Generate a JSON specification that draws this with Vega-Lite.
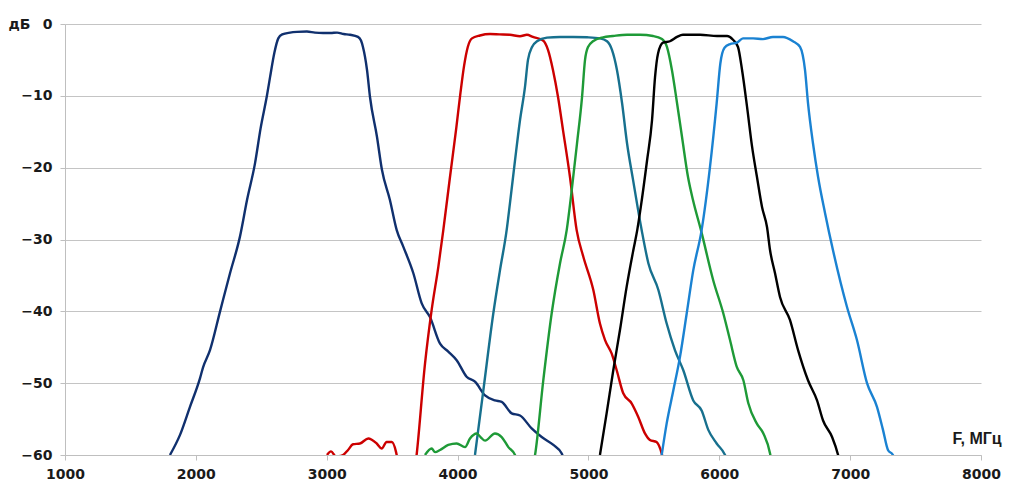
{
  "$schema": "https://vega.github.io/schema/vega-lite/v6.json",
  "width": 916,
  "height": 431,
  "autosize": "none",
  "padding": {"left": 65, "top": 24, "right": 43, "bottom": 42},
  "background": "white",
  "config": {"view": {"stroke": null}},
  "data": {
    "values": [
      {"s":"1","f":1802,"db":-60},{"s":"1","f":1879,"db":-57.2},{"s":"1","f":1955,"db":-53.3},{"s":"1","f":2032,"db":-49.3},{"s":"1","f":2055,"db":-47.8},{"s":"1","f":2108,"db":-45.4},{"s":"1","f":2185,"db":-40},{"s":"1","f":2261,"db":-34.7},{"s":"1","f":2337,"db":-29.6},{"s":"1","f":2391,"db":-24.5},{"s":"1","f":2452,"db":-19.4},{"s":"1","f":2495,"db":-14.5},{"s":"1","f":2543,"db":-10},{"s":"1","f":2567,"db":-7.4},{"s":"1","f":2600,"db":-4},{"s":"1","f":2630,"db":-2},{"s":"1","f":2660,"db":-1.45},{"s":"1","f":2720,"db":-1.2},{"s":"1","f":2773,"db":-1.1},{"s":"1","f":2849,"db":-1.05},{"s":"1","f":2910,"db":-1.2},{"s":"1","f":2972,"db":-1.25},{"s":"1","f":3030,"db":-1.25},{"s":"1","f":3079,"db":-1.2},{"s":"1","f":3130,"db":-1.4},{"s":"1","f":3178,"db":-1.5},{"s":"1","f":3239,"db":-1.8},{"s":"1","f":3262,"db":-2.3},{"s":"1","f":3277,"db":-3.2},{"s":"1","f":3308,"db":-6.4},{"s":"1","f":3331,"db":-10.2},{"s":"1","f":3384,"db":-15.7},{"s":"1","f":3422,"db":-20.3},{"s":"1","f":3483,"db":-24.5},{"s":"1","f":3535,"db":-28.7},{"s":"1","f":3585,"db":-31},{"s":"1","f":3662,"db":-34.7},{"s":"1","f":3726,"db":-38.9},{"s":"1","f":3789,"db":-40.8},{"s":"1","f":3866,"db":-44.5},{"s":"1","f":3929,"db":-45.6},{"s":"1","f":3993,"db":-46.8},{"s":"1","f":4069,"db":-49.1},{"s":"1","f":4133,"db":-49.8},{"s":"1","f":4210,"db":-51.7},{"s":"1","f":4286,"db":-52.4},{"s":"1","f":4337,"db":-52.6},{"s":"1","f":4413,"db":-54.2},{"s":"1","f":4477,"db":-54.5},{"s":"1","f":4566,"db":-56.3},{"s":"1","f":4643,"db":-57.5},{"s":"1","f":4732,"db":-58.6},{"s":"1","f":4796,"db":-59.8},{"s":"1","f":4810,"db":-60.5},

      {"s":"2","f":3002,"db":-60},{"s":"2","f":3033,"db":-59.5},{"s":"2","f":3070,"db":-60.2},{"s":"2","f":3124,"db":-60},{"s":"2","f":3163,"db":-59.3},{"s":"2","f":3201,"db":-58.5},{"s":"2","f":3254,"db":-58.4},{"s":"2","f":3318,"db":-57.7},{"s":"2","f":3382,"db":-58.4},{"s":"2","f":3420,"db":-59.1},{"s":"2","f":3458,"db":-58.2},{"s":"2","f":3497,"db":-58.2},{"s":"2","f":3530,"db":-59.6},{"s":"2","f":3545,"db":-61},{"s":"2","f":3570,"db":-64},{"s":"2","f":3660,"db":-64},{"s":"2","f":3687,"db":-60},{"s":"2","f":3751,"db":-47.3},{"s":"2","f":3802,"db":-39.8},{"s":"2","f":3853,"db":-33.8},{"s":"2","f":3891,"db":-28.7},{"s":"2","f":3942,"db":-21.3},{"s":"2","f":3990,"db":-14.5},{"s":"2","f":4022,"db":-9.6},{"s":"2","f":4050,"db":-5.8},{"s":"2","f":4078,"db":-3.2},{"s":"2","f":4110,"db":-2},{"s":"2","f":4171,"db":-1.6},{"s":"2","f":4248,"db":-1.4},{"s":"2","f":4320,"db":-1.45},{"s":"2","f":4400,"db":-1.5},{"s":"2","f":4477,"db":-1.7},{"s":"2","f":4530,"db":-1.5},{"s":"2","f":4576,"db":-1.8},{"s":"2","f":4653,"db":-2.3},{"s":"2","f":4691,"db":-3.6},{"s":"2","f":4729,"db":-6.4},{"s":"2","f":4768,"db":-10.2},{"s":"2","f":4806,"db":-14.8},{"s":"2","f":4859,"db":-21.3},{"s":"2","f":4910,"db":-28.7},{"s":"2","f":4961,"db":-32.4},{"s":"2","f":5037,"db":-37},{"s":"2","f":5088,"db":-41.7},{"s":"2","f":5127,"db":-44},{"s":"2","f":5178,"db":-45.9},{"s":"2","f":5216,"db":-48.2},{"s":"2","f":5266,"db":-51.4},{"s":"2","f":5330,"db":-52.8},{"s":"2","f":5381,"db":-54.7},{"s":"2","f":5432,"db":-57},{"s":"2","f":5470,"db":-57.9},{"s":"2","f":5521,"db":-58.2},{"s":"2","f":5560,"db":-59.8},{"s":"2","f":5570,"db":-60.5},

      {"s":"3","f":4133,"db":-60},{"s":"3","f":4197,"db":-51},{"s":"3","f":4273,"db":-40.3},{"s":"3","f":4324,"db":-34.3},{"s":"3","f":4375,"db":-28.7},{"s":"3","f":4400,"db":-25},{"s":"3","f":4439,"db":-19},{"s":"3","f":4477,"db":-13.4},{"s":"3","f":4515,"db":-8.8},{"s":"3","f":4538,"db":-5},{"s":"3","f":4569,"db":-3.2},{"s":"3","f":4607,"db":-2.4},{"s":"3","f":4683,"db":-1.9},{"s":"3","f":4783,"db":-1.8},{"s":"3","f":4882,"db":-1.8},{"s":"3","f":4989,"db":-1.85},{"s":"3","f":5088,"db":-2.0},{"s":"3","f":5142,"db":-2.4},{"s":"3","f":5180,"db":-3.6},{"s":"3","f":5218,"db":-6.4},{"s":"3","f":5257,"db":-11},{"s":"3","f":5295,"db":-16.6},{"s":"3","f":5341,"db":-21.7},{"s":"3","f":5407,"db":-28.7},{"s":"3","f":5458,"db":-33.3},{"s":"3","f":5534,"db":-37},{"s":"3","f":5598,"db":-41.7},{"s":"3","f":5661,"db":-45.4},{"s":"3","f":5725,"db":-48.2},{"s":"3","f":5801,"db":-52.4},{"s":"3","f":5865,"db":-53.8},{"s":"3","f":5916,"db":-56.5},{"s":"3","f":5980,"db":-58.4},{"s":"3","f":6044,"db":-60},{"s":"3","f":6055,"db":-60.5},

      {"s":"4","f":3751,"db":-60},{"s":"4","f":3802,"db":-59.1},{"s":"4","f":3828,"db":-59.6},{"s":"4","f":3866,"db":-59.3},{"s":"4","f":3929,"db":-58.6},{"s":"4","f":3993,"db":-58.4},{"s":"4","f":4057,"db":-58.9},{"s":"4","f":4095,"db":-57.7},{"s":"4","f":4146,"db":-57},{"s":"4","f":4180,"db":-57.6},{"s":"4","f":4210,"db":-58},{"s":"4","f":4286,"db":-57},{"s":"4","f":4337,"db":-57.5},{"s":"4","f":4388,"db":-58.9},{"s":"4","f":4439,"db":-60},{"s":"4","f":4460,"db":-62},{"s":"4","f":4570,"db":-62},{"s":"4","f":4592,"db":-60},{"s":"4","f":4655,"db":-49.6},{"s":"4","f":4719,"db":-40.3},{"s":"4","f":4783,"db":-33.3},{"s":"4","f":4834,"db":-28.7},{"s":"4","f":4870,"db":-23.5},{"s":"4","f":4913,"db":-16.6},{"s":"4","f":4951,"db":-10.2},{"s":"4","f":4974,"db":-5},{"s":"4","f":4997,"db":-3.2},{"s":"4","f":5035,"db":-2.4},{"s":"4","f":5111,"db":-1.85},{"s":"4","f":5188,"db":-1.67},{"s":"4","f":5295,"db":-1.5},{"s":"4","f":5394,"db":-1.5},{"s":"4","f":5494,"db":-1.67},{"s":"4","f":5562,"db":-2.1},{"s":"4","f":5600,"db":-3.2},{"s":"4","f":5638,"db":-6.4},{"s":"4","f":5677,"db":-11},{"s":"4","f":5715,"db":-15.7},{"s":"4","f":5761,"db":-21.3},{"s":"4","f":5799,"db":-24.5},{"s":"4","f":5860,"db":-28.7},{"s":"4","f":5954,"db":-35.7},{"s":"4","f":6031,"db":-40.3},{"s":"4","f":6082,"db":-44},{"s":"4","f":6133,"db":-47.7},{"s":"4","f":6184,"db":-49.6},{"s":"4","f":6222,"db":-52.8},{"s":"4","f":6286,"db":-55.6},{"s":"4","f":6337,"db":-57},{"s":"4","f":6388,"db":-59.8},{"s":"4","f":6395,"db":-60.5},

      {"s":"5","f":5088,"db":-60},{"s":"5","f":5139,"db":-54.2},{"s":"5","f":5190,"db":-48.2},{"s":"5","f":5241,"db":-42.6},{"s":"5","f":5292,"db":-36.6},{"s":"5","f":5343,"db":-31.5},{"s":"5","f":5373,"db":-28.7},{"s":"5","f":5400,"db":-25.5},{"s":"5","f":5448,"db":-19},{"s":"5","f":5486,"db":-13.4},{"s":"5","f":5509,"db":-7.4},{"s":"5","f":5532,"db":-4.1},{"s":"5","f":5570,"db":-2.6},{"s":"5","f":5623,"db":-2.4},{"s":"5","f":5677,"db":-1.8},{"s":"5","f":5722,"db":-1.5},{"s":"5","f":5853,"db":-1.5},{"s":"5","f":5983,"db":-1.67},{"s":"5","f":6059,"db":-1.67},{"s":"5","f":6105,"db":-2.2},{"s":"5","f":6143,"db":-3.2},{"s":"5","f":6174,"db":-6.4},{"s":"5","f":6212,"db":-11.5},{"s":"5","f":6250,"db":-17},{"s":"5","f":6288,"db":-21.3},{"s":"5","f":6327,"db":-25.5},{"s":"5","f":6365,"db":-28.3},{"s":"5","f":6388,"db":-31.5},{"s":"5","f":6426,"db":-34.7},{"s":"5","f":6464,"db":-38},{"s":"5","f":6540,"db":-41.2},{"s":"5","f":6602,"db":-45.4},{"s":"5","f":6678,"db":-49.6},{"s":"5","f":6747,"db":-52.4},{"s":"5","f":6793,"db":-55.2},{"s":"5","f":6862,"db":-57.5},{"s":"5","f":6908,"db":-60},{"s":"5","f":6915,"db":-60.5},

      {"s":"6","f":5560,"db":-60},{"s":"6","f":5598,"db":-55.6},{"s":"6","f":5649,"db":-51},{"s":"6","f":5700,"db":-46.3},{"s":"6","f":5751,"db":-40.3},{"s":"6","f":5801,"db":-34.3},{"s":"6","f":5865,"db":-28.7},{"s":"6","f":5929,"db":-19.9},{"s":"6","f":5980,"db":-11},{"s":"6","f":6008,"db":-5.5},{"s":"6","f":6040,"db":-3.3},{"s":"6","f":6082,"db":-2.8},{"s":"6","f":6135,"db":-2.6},{"s":"6","f":6181,"db":-2},{"s":"6","f":6258,"db":-2},{"s":"6","f":6334,"db":-2.1},{"s":"6","f":6410,"db":-1.8},{"s":"6","f":6487,"db":-1.8},{"s":"6","f":6563,"db":-2.4},{"s":"6","f":6617,"db":-3.2},{"s":"6","f":6655,"db":-6.4},{"s":"6","f":6678,"db":-11},{"s":"6","f":6716,"db":-16.6},{"s":"6","f":6755,"db":-21.3},{"s":"6","f":6808,"db":-26.3},{"s":"6","f":6869,"db":-31.5},{"s":"6","f":6976,"db":-39.4},{"s":"6","f":7052,"db":-44},{"s":"6","f":7129,"db":-50},{"s":"6","f":7205,"db":-53.3},{"s":"6","f":7251,"db":-56.5},{"s":"6","f":7289,"db":-59.3},{"s":"6","f":7327,"db":-60},{"s":"6","f":7335,"db":-60.5}
    ]
  },
  "mark": {"type": "line", "strokeWidth": 2.4, "interpolate": "monotone", "clip": true},
  "encoding": {
    "x": {
      "field": "f", "type": "quantitative",
      "scale": {"domain": [1000, 8000], "nice": false},
      "axis": {
        "values": [1000, 2000, 3000, 4000, 5000, 6000, 7000, 8000],
        "format": "d",
        "grid": false,
        "labelFlush": false,
        "labelOverlap": false,
        "domainColor": "#bfbfbf",
        "tickColor": "#bfbfbf",
        "tickSize": 5,
        "labelFont": "DejaVu Sans",
        "labelFontWeight": "bold",
        "labelFontSize": 14,
        "labelColor": "#1a1a1a",
        "labelPadding": 7,
        "title": "F, МГц",
        "titleFont": "Liberation Sans",
        "titleFontWeight": "bold",
        "titleFontSize": 16,
        "titleColor": "#1a1a1a",
        "titleAlign": "left",
        "titleBaseline": "middle",
        "titleAnchor": "start",
        "titleX": 887,
        "titleY": -17
      }
    },
    "y": {
      "field": "db", "type": "quantitative",
      "scale": {"domain": [-60, 0], "nice": false},
      "axis": {
        "values": [0, -10, -20, -30, -40, -50, -60],
        "grid": true,
        "labelFlush": false,
        "gridColor": "#c4c4c4",
        "domainColor": "#bfbfbf",
        "tickColor": "#bfbfbf",
        "tickSize": 5,
        "labelFont": "DejaVu Sans",
        "labelFontWeight": "bold",
        "labelFontSize": 14,
        "labelColor": "#1a1a1a",
        "labelPadding": 8,
        "title": "дБ",
        "titleFont": "DejaVu Sans",
        "titleFontWeight": "bold",
        "titleFontSize": 14,
        "titleColor": "#1a1a1a",
        "titleAngle": 0,
        "titleAlign": "left",
        "titleBaseline": "middle",
        "titleX": -57,
        "titleY": 0
      }
    },
    "color": {
      "field": "s", "type": "nominal", "legend": null,
      "scale": {
        "domain": ["1", "2", "3", "4", "5", "6"],
        "range": ["#10306e", "#cc0000", "#17708e", "#1e9a37", "#000000", "#1a82d2"]
      }
    }
  }
}
